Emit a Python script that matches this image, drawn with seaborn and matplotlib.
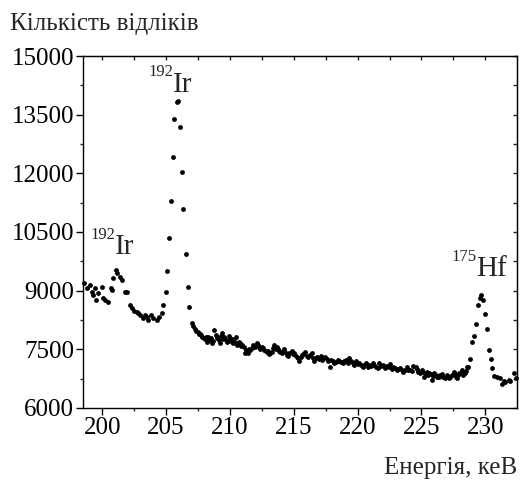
import matplotlib
matplotlib.use("Agg")
import matplotlib.pyplot as plt
import seaborn as sns
from matplotlib.ticker import MultipleLocator

# energy (keV) and counts
energy = [
    198.57, 198.82, 199.04, 199.17, 199.25, 199.43, 199.51, 199.69, 199.95, 200.08,
    200.21, 200.47, 200.66, 200.78, 200.86, 201.07, 201.18, 201.39, 201.52, 201.78,
    201.91, 202.17, 202.30, 202.48, 202.70, 202.82, 202.95, 203.17, 203.35, 203.48,
    203.61, 203.79, 204.00, 204.26, 204.47, 204.66, 204.78, 204.97, 205.09, 205.25,
    205.38, 205.52, 205.64, 205.83, 205.96, 206.09, 206.22, 206.35, 206.54, 206.69,
    206.82, 207.05, 207.26, 207.48, 207.66, 207.84, 208.05, 208.18, 208.31, 208.44,
    208.57, 208.78, 208.89, 209.09, 209.22, 209.36, 209.56, 209.75, 209.93, 210.14,
    210.27, 210.45, 210.61, 210.79, 210.97, 211.18, 211.40, 211.58, 211.71, 211.83,
    212.10, 212.28, 212.49, 212.70, 212.88, 213.06, 213.28, 213.48, 213.67, 213.85,
    214.06, 214.26, 214.45, 214.63, 214.84, 215.02, 215.24, 215.44, 215.63, 215.89,
    216.14, 216.41, 216.59, 216.85, 217.12, 217.32, 217.59, 217.84, 218.06, 218.31,
    218.57, 218.84, 219.10, 219.36, 219.62, 219.88, 220.14, 220.41, 220.67, 220.92,
    221.19, 221.45, 221.71, 221.97, 222.29, 222.55, 222.81, 223.07, 223.33, 223.59,
    223.86, 224.11, 224.37, 224.56, 224.76, 225.03, 225.23, 225.42, 225.60, 225.81,
    226.02, 226.21, 226.47, 226.72, 226.99, 227.13, 227.25, 227.51, 227.70, 227.79,
    227.96, 228.17, 228.37, 228.56, 228.68, 228.82, 228.97, 229.13, 229.27, 229.42,
    229.55, 229.66, 229.82, 230.00, 230.14, 230.29, 230.43, 230.56, 230.69, 230.90,
    231.16, 231.30, 231.43, 231.56, 231.82, 231.95, 232.21, 232.40,
]
counts = [
    9190, 9060, 9150, 8970, 8890, 9060, 8760, 8940, 9090, 8810,
    8760, 8720, 9060, 9020, 9330, 9530, 9450, 9360, 9270, 8960,
    8960, 8630, 8550, 8480, 8460, 8420, 8380, 8290, 8380, 8330,
    8250, 8380, 8290, 8250, 8330, 8420, 8630, 8970, 9510, 10340,
    11290, 12410, 13380, 13830, 13860, 13180, 12030, 11090, 9940, 9100,
    8590, 8180, 8010, 7940, 7880, 7820, 7760, 7700, 7820, 7740,
    7670, 7990, 7870, 7780, 7670, 7910, 7820, 7700, 7840, 7760,
    7650, 7810, 7650, 7670, 7610, 7410, 7400, 7480, 7530, 7610,
    7650, 7570, 7570, 7480, 7440, 7380, 7440, 7610, 7570, 7470,
    7400, 7500, 7360, 7400, 7460, 7410, 7310, 7210, 7360, 7440,
    7310, 7400, 7210, 7310, 7330, 7270, 7250, 7060, 7210, 7180,
    7210, 7160, 7230, 7270, 7160, 7210, 7160, 7060, 7140, 7100,
    7140, 7060, 7140, 7100, 7070, 7130, 7060, 6970, 7020, 6930,
    7060, 6970, 7070, 7040, 6930, 6970, 6800, 6930, 6890, 6720,
    6890, 6800, 6840, 6800, 6840, 6760, 6800, 6930, 6800, 6760,
    6890, 6970, 6900, 7060, 7040, 7250, 7680, 7840, 8150, 8630,
    8800, 8890, 8760, 8400, 8020, 7480, 7250, 7020, 6830, 6800,
    6760, 6610, 6700, 6670, 6720, 6700, 6890, 6760,
]
# extra dots of the dense continuum band (207-228.5 keV)
energy_band = [
    207.15, 207.37, 207.57, 207.75, 207.95, 208.11, 208.24, 208.50, 208.66, 208.99,
    209.15, 209.29, 209.46, 209.65, 209.84, 210.03, 210.20, 210.36, 210.53, 210.70,
    210.88, 211.08, 211.29, 211.49, 211.93, 212.19, 212.38, 212.60, 212.79, 212.97,
    213.17, 213.38, 213.58, 213.76, 213.95, 214.16, 214.35, 214.54, 214.93, 215.13,
    215.34, 215.53, 215.76, 216.02, 216.27, 216.50, 216.72, 216.98, 217.22, 217.45,
    217.71, 217.95, 218.19, 218.44, 218.70, 218.97, 219.23, 219.49, 219.75, 220.01,
    220.27, 220.54, 220.80, 221.06, 221.32, 221.58, 221.84, 222.13, 222.42, 222.68,
    222.94, 223.20, 223.46, 223.72, 223.98, 224.24, 224.66, 224.90, 225.13, 225.33,
    225.51, 225.71, 225.92, 226.11, 226.34, 226.60, 226.86, 227.38, 227.60, 227.88,
    228.07, 228.27, 228.47,
]
counts_band = [
    8100, 7960, 7900, 7860, 7790, 7820, 7760, 7800, 7720, 7800,
    7750, 7850, 7770, 7760, 7720, 7800, 7700, 7720, 7600, 7700,
    7590, 7560, 7480, 7520, 7560, 7600, 7520, 7530, 7470, 7460,
    7410, 7530, 7520, 7500, 7430, 7460, 7420, 7340, 7390, 7360,
    7280, 7300, 7390, 7330, 7360, 7280, 7290, 7260, 7240, 7300,
    7190, 7230, 7140, 7230, 7170, 7210, 7140, 7200, 7100, 7130,
    7110, 7090, 7050, 7080, 7110, 7020, 7070, 7020, 7060, 7000,
    7010, 7000, 6980, 6960, 6980, 6940, 6990, 6900, 6920, 6870,
    6840, 6860, 6810, 6850, 6790, 6860, 6760, 6850, 6870, 6840,
    6900, 6850, 6950,
]

sns.set_style("ticks")
plt.rcParams["font.family"] = ["Liberation Serif", "DejaVu Serif"]

fig = plt.figure(figsize=(5.2, 4.8), dpi=100)
ax = fig.add_axes([83 / 520, 1 - 408 / 480, 434 / 520, 352 / 480])

sns.scatterplot(x=energy + energy_band, y=counts + counts_band, ax=ax,
                color="black", s=12, linewidth=0, clip_on=False)

ax.set_xlim(198.5, 232.48)
ax.set_ylim(6000, 15000)
ax.set_xticks([200, 205, 210, 215, 220, 225, 230])
ax.set_yticks([6000, 7500, 9000, 10500, 12000, 13500, 15000])
ax.xaxis.set_minor_locator(MultipleLocator(2.5))
ax.yaxis.set_minor_locator(MultipleLocator(750))
ax.tick_params(which="major", direction="out", length=5, width=1,
               labelsize=18, pad=1.5, color="black", labelcolor="black")
ax.tick_params(which="minor", direction="out", length=2.5, width=1)
ax.set_xlabel("")
ax.set_ylabel("")
for sp in ax.spines.values():
    sp.set_visible(True)
    sp.set_linewidth(1.0)
    sp.set_color("black")

# inward ticks on top and right
top = ax.secondary_xaxis("top")
top.set_xticks([200, 205, 210, 215, 220, 225, 230])
top.xaxis.set_minor_locator(MultipleLocator(2.5))
top.tick_params(which="both", direction="in", length=3, width=1, labeltop=False)
right = ax.secondary_yaxis("right")
right.set_yticks([6000, 7500, 9000, 10500, 12000, 13500, 15000])
right.yaxis.set_minor_locator(MultipleLocator(750))
right.tick_params(which="both", direction="in", length=3, width=1, labelright=False)

# isotope labels
peaks = [("192", "Ir", 201.0, 9940), ("192", "Ir", 205.54, 14090), ("175", "Hf", 229.28, 9375)]
for mass, sym, px, py in peaks:
    ax.text(px, py, sym, fontsize=21, ha="left", va="baseline")
    ax.annotate(mass, xy=(px, py), xytext=(0, 11), textcoords="offset points",
                fontsize=12, ha="right", va="baseline")

fig.text(10 / 520, 1 - 30 / 480, "Кількість відліків", fontsize=18, va="baseline")
fig.text(517 / 520, 1 - 474 / 480, "Енергія, кеВ", fontsize=18, ha="right", va="baseline")

fig.savefig("out.png", dpi=100)
